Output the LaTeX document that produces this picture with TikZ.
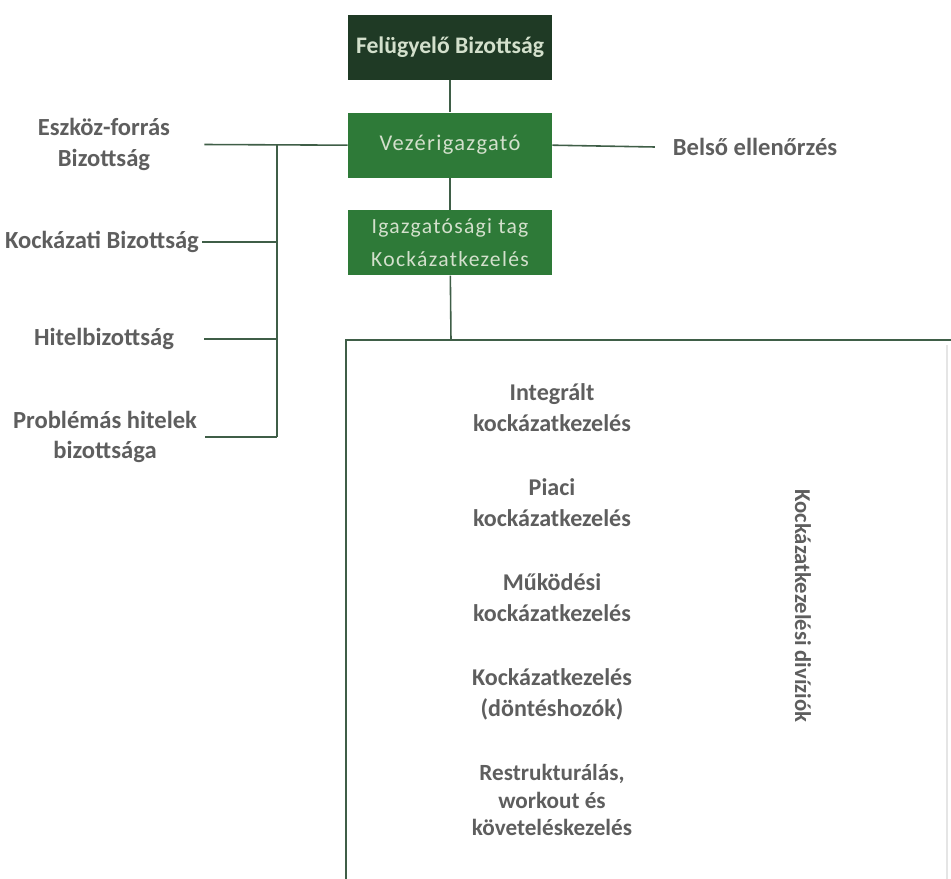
\documentclass[tikz,border=0pt]{standalone}
\usepackage{fontspec}
\setmainfont{Carlito}
\newfontfamily\spacedfont[LetterSpace=6]{Carlito}
\usetikzlibrary{positioning}
\definecolor{darkboard}{HTML}{1F3A25}
\definecolor{boardgreen}{HTML}{2E7A38}
\definecolor{linegreen}{HTML}{3F5E47}
\definecolor{labelgrey}{HTML}{5E5E5E}
\definecolor{palegreen}{HTML}{D3E0CC}

\begin{document}
\begin{tikzpicture}[x=0.02cm, y=-0.02cm, node distance={6.4mm},
    box/.style={minimum width=4.08cm, minimum height=1.3cm, align=center, inner sep=0pt},
    side/.style={minimum width=4cm, inner sep=0pt, align=center, text=labelgrey,
      font=\bfseries\fontsize{14}{17.5}\selectfont},
    unit/.style={align=center, text=labelgrey, font=\bfseries\fontsize{13.7}{17.6}\selectfont},
    link/.style={draw=linegreen, line width=0.9pt}]
    \useasboundingbox (0,0) rectangle (951,879);
    % board and management
    \node[box, fill=darkboard, text=palegreen, font=\bfseries\fontsize{13.5}{14}\selectfont] (fb) at (450,47.5) {Felügyelő Bizottság};
    \node[box, fill=boardgreen, text=palegreen, font=\spacedfont\fontsize{12.8}{14}\selectfont] (vi) [below=of fb] {Vezérigazgató};
    \node[box, fill=boardgreen, text=palegreen, font=\spacedfont\fontsize{12.3}{18.5}\selectfont] (it) [below=of vi] {Igazgatósági tag\\Kockázatkezelés};
    % committees
    \node[side] (ef) at (104,144.5) {Eszköz-forrás\\Bizottság};
    \node[side] (kb) at (102,242) {Kockázati Bizottság};
    \node[side] (hb) at (104,339) {Hitelbizottság};
    \node[side] (pb) at (105,437) {Problémás hitelek\\bizottsága};
    \node[side, minimum width=0pt, inner sep=10pt] (be) at (755,147) {Belső ellenőrzés};
    \coordinate (bustop) at (277,144.5);
    \coordinate (busbot) at (277,437);
    % divisions
    \coordinate (divtop) at (451,340);
    \coordinate (divnw) at (346,340);
    \coordinate (divne) at (951,340);
    \coordinate (divsw) at (346,879);
    \coordinate (divse) at (947,879);
    \coordinate (divre) at (947,345);
    \node[unit] (ik) at (552,407.5) {Integrált\\kockázatkezelés};
    \node[unit] (pk) at (552,502.5) {Piaci\\kockázatkezelés};
    \node[unit] (mk) at (552,597.5) {Működési\\kockázatkezelés};
    \node[unit] (dk) at (552,694) {Kockázatkezelés\\(döntéshozók)};
    \node[unit, font=\bfseries\fontsize{13.2}{15.4}\selectfont] (rk) at (552,800) {Restrukturálás,\\workout és\\követeléskezelés};
    \node[unit, rotate=-90, font=\bfseries\fontsize{12.9}{14}\selectfont] (dv) at (803,606) {Kockázatkezelési divíziók};
\begin{scope}[link]
    \draw (fb) -- (vi);
    \draw (vi) -- (it);
    \draw (vi.east) -- (be.west);
    \draw (ef.east) -- (vi.west);
    \draw (bustop) -- (busbot);
    \draw[line width=1.6pt] (kb.east) -- (kb.east -| bustop);
    \draw (hb.east) -- (hb.east -| bustop);
    \draw (pb.east) -- (busbot);
    \draw (it) -- (divtop);
    \draw (divne) -- (divnw) -- (divsw);
    \draw[draw=black!10] (divre) -- (divse);
\end{scope}
\end{tikzpicture}
\end{document}
